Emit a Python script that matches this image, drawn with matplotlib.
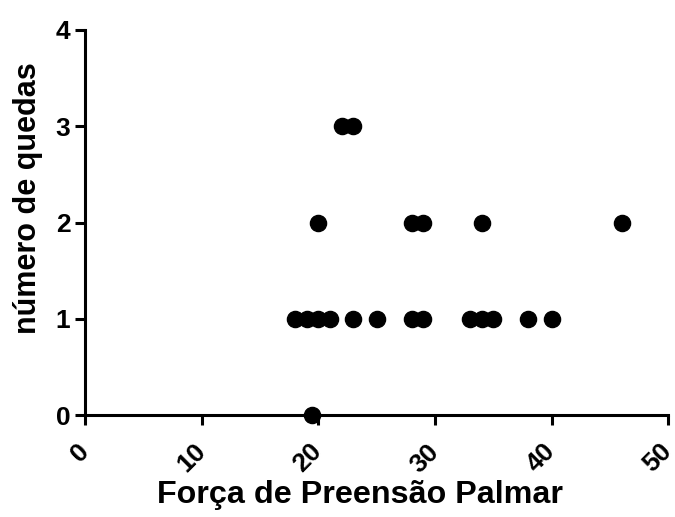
import matplotlib
matplotlib.use("Agg")
import matplotlib.pyplot as plt

forca = [18, 19, 20, 21, 23, 25, 28, 29, 33, 34, 35, 38, 40,
         20, 28, 29, 34, 46,
         22, 23,
         19.5]
quedas = [1, 1, 1, 1, 1, 1, 1, 1, 1, 1, 1, 1, 1,
          2, 2, 2, 2, 2,
          3, 3,
          0]
xticks = [0, 10, 20, 30, 40, 50]
yticks = [0, 1, 2, 3, 4]

plt.rcParams['font.family'] = ['Liberation Sans', 'DejaVu Sans']
plt.rcParams['font.weight'] = 'bold'

fig = plt.figure(figsize=(6.75, 5.17), dpi=100)
ax = fig.add_axes([0.126, 0.197, 0.864, 0.745])
ax.scatter(forca, quedas, s=135, color='black', zorder=3, clip_on=False)
ax.set_xlim(0, 50)
ax.set_ylim(0, 4)
ax.set_xticks(xticks)
ax.set_yticks(yticks)
ax.set_xticklabels([str(t) for t in xticks], rotation=45, ha='right', va='center',
                   rotation_mode='anchor', fontsize=19, fontweight='bold')
ax.set_yticklabels([str(t) for t in yticks], fontsize=19, fontweight='bold')
for s in ['top', 'right']:
    ax.spines[s].set_visible(False)
for s in ['left', 'bottom']:
    ax.spines[s].set_linewidth(2.2)
ax.tick_params(width=2.2, length=7.5, direction='out')
ax.tick_params(axis='x', pad=16)
ax.tick_params(axis='y', pad=3)
ax.set_xlabel('Força de Preensão Palmar', fontsize=23.2, fontweight='bold', va='center')
ax.xaxis.set_label_coords(0.472, -0.207)
ax.set_ylabel('número de quedas', fontsize=22, fontweight='bold', va='center')
ax.yaxis.set_label_coords(-0.098, 0.564)
fig.savefig('out.png', dpi=100)
